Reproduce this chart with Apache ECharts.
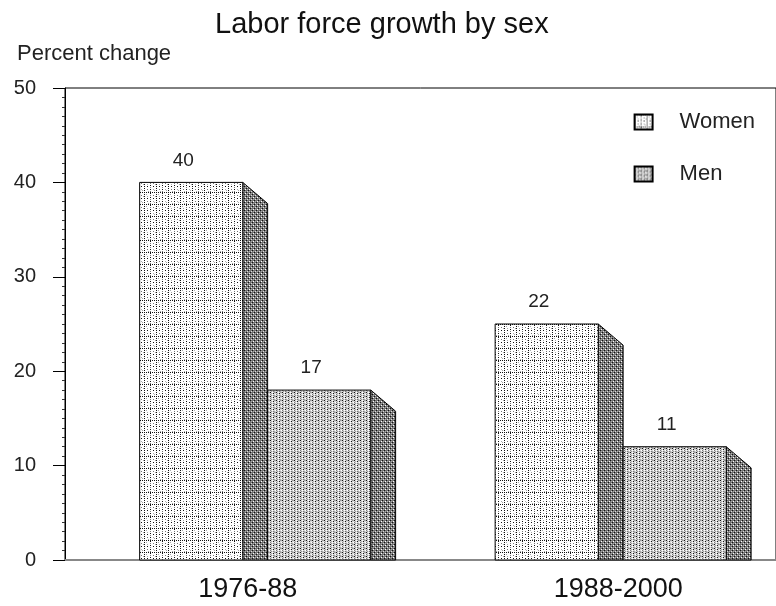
<!DOCTYPE html>
<html>
<head>
<meta charset="utf-8">
<script src="https://cdn.jsdelivr.net/npm/echarts@6/dist/echarts.min.js"></script>
<style>
  html, body { margin: 0; padding: 0; background: #fff; }
  #chart { width: 776px; height: 606px; }
</style>
</head>
<body>
<div id="chart"></div>
<script>
// data
var periods = ['1976-88', '1988-2000'];
var womenHeight = [40, 25];   // drawn bar heights
var menHeight = [18, 12];
var womenLabel = ['40', '22']; // printed value labels
var menLabel = ['17', '11'];
var yTicks = [0, 10, 20, 30, 40, 50];

// little pixel tiles for the hatched fills
function makeTile(w, h, bg, dots) {
    var c = document.createElement('canvas');
    c.width = w; c.height = h;
    var ctx = c.getContext('2d');
    ctx.fillStyle = bg;
    ctx.fillRect(0, 0, w, h);
    for (var i = 0; i < dots.length; i++) {
        ctx.fillStyle = dots[i][2];
        ctx.fillRect(dots[i][0], dots[i][1], 1, 1);
    }
    return { image: c, repeat: 'repeat' };
}

var K = '#111', G = '#777', W = '#fff', L = '#aaa';
var womenFill = makeTile(12, 12, '#fff', [
    [0, 0, K], [2, 0, K], [4, 0, K], [6, 0, K], [8, 0, K], [10, 0, K],
    [0, 2, K], [0, 4, K], [0, 6, K], [0, 8, K], [0, 10, K],
    [6, 1, K], [6, 3, G], [6, 5, K], [6, 7, G], [6, 9, K], [6, 11, G],
    [3, 6, K], [9, 6, K], [3, 4, L], [9, 3, G], [3, 9, G], [9, 9, L],
    [2, 2, L], [10, 10, L], [4, 11, L], [11, 4, L]
]);
var menFill = makeTile(6, 4, '#d8d8d8', [
    [0, 0, K], [0, 2, G], [3, 1, K], [3, 3, G],
    [1, 1, L], [4, 3, L], [2, 0, W], [5, 2, W], [1, 3, '#999'], [4, 0, '#999'],
    [2, 2, W], [5, 0, L]
]);
var sideFill = makeTile(4, 4, '#737373', [
    [1, 1, W], [3, 3, '#ddd'], [0, 2, K], [2, 0, K], [3, 1, '#aaa'], [1, 3, '#aaa']
]);

function barRenderer(isMen, labels) {
    return function (params, api) {
        var cat = api.value(0);
        var top = api.coord([cat, api.value(1)]);
        var base = api.coord([cat, 0]);
        var band = api.size([1, 0])[0];
        var x0, x1;
        if (isMen) {
            x0 = top[0] + band * 0.07;
            x1 = top[0] + band * 0.36;
        } else {
            x0 = top[0] - band * 0.29;
            x1 = top[0];
        }
        var sw = band * 0.07;
        var sl = sw * 0.85;
        return {
            type: 'group',
            children: [
                {
                    type: 'polygon',
                    shape: { points: [[x1, top[1]], [x1 + sw, top[1] + sl], [x1 + sw, base[1]], [x1, base[1]]] },
                    style: { fill: sideFill, stroke: '#000', lineWidth: 1 }
                },
                {
                    type: 'rect',
                    shape: { x: x0, y: top[1], width: x1 - x0, height: base[1] - top[1] },
                    style: { fill: isMen ? menFill : womenFill, stroke: '#000', lineWidth: 1 }
                },
                {
                    type: 'text',
                    style: {
                        text: labels[params.dataIndex],
                        x: (x0 + x1) / 2 - 8, y: top[1] - 22,
                        align: 'center', verticalAlign: 'middle',
                        font: '19px "Liberation Sans", Arial, sans-serif',
                        fill: '#222'
                    }
                }
            ]
        };
    };
}

var myChart = echarts.init(document.getElementById('chart'));

var option = {
    backgroundColor: '#fff',
    animation: false,
    textStyle: { fontFamily: '"Liberation Sans", Arial, sans-serif' },
    title: [
        {
            text: 'Labor force growth by sex',
            left: 210, top: 5,
            textStyle: { fontSize: 29, fontWeight: 'normal', color: '#111' }
        },
        {
            text: 'Percent change',
            left: 12, top: 38,
            textStyle: { fontSize: 22, fontWeight: 'normal', color: '#222' }
        }
    ],
    legend: {
        orient: 'vertical',
        right: 16, top: 106,
        itemWidth: 18, itemHeight: 15,
        itemGap: 30,
        icon: 'rect',
        textStyle: { fontSize: 22, color: '#222', padding: [0, 0, 0, 22] },
        data: ['Women', 'Men']
    },
    grid: {
        left: 65, right: -2, top: 88, bottom: 46,
        show: true, borderColor: '#000', borderWidth: 1, backgroundColor: 'transparent'
    },
    xAxis: {
        type: 'category',
        data: periods,
        axisLine: { lineStyle: { color: '#888', width: 2 } },
        axisTick: { show: false },
        axisLabel: {
            fontSize: 27, color: '#111', margin: 16,
            // labels sit a little right of the band centres in the original
            formatter: function (v, i) { return (i === 0 ? '{a|' : '{b|') + v + '}'; },
            rich: {
                a: { fontSize: 27, color: '#111', padding: [0, 0, 0, 10] },
                b: { fontSize: 27, color: '#111', padding: [0, 0, 0, 40] }
            }
        },
        splitLine: { show: false }
    },
    yAxis: {
        type: 'value',
        min: yTicks[0], max: yTicks[yTicks.length - 1], interval: 10,
        axisLine: { show: true, lineStyle: { color: '#000', width: 1 } },
        axisTick: { show: true, length: 12, lineStyle: { color: '#000' } },
        minorTick: { show: true, splitNumber: 10, length: 3, lineStyle: { color: '#333' } },
        axisLabel: { fontSize: 20, color: '#222', margin: 29 },
        splitLine: { show: false }
    },
    series: [
        {
            name: 'Women',
            type: 'custom',
            renderItem: barRenderer(false, womenLabel),
            itemStyle: { color: womenFill, borderColor: '#000', borderWidth: 1 },
            encode: { x: 0, y: 1 },
            data: periods.map(function (p, i) { return [i, womenHeight[i]]; })
        },
        {
            name: 'Men',
            type: 'custom',
            renderItem: barRenderer(true, menLabel),
            itemStyle: { color: menFill, borderColor: '#000', borderWidth: 1 },
            encode: { x: 0, y: 1 },
            data: periods.map(function (p, i) { return [i, menHeight[i]]; })
        }
    ]
};

myChart.setOption(option);
</script>
</body>
</html>
